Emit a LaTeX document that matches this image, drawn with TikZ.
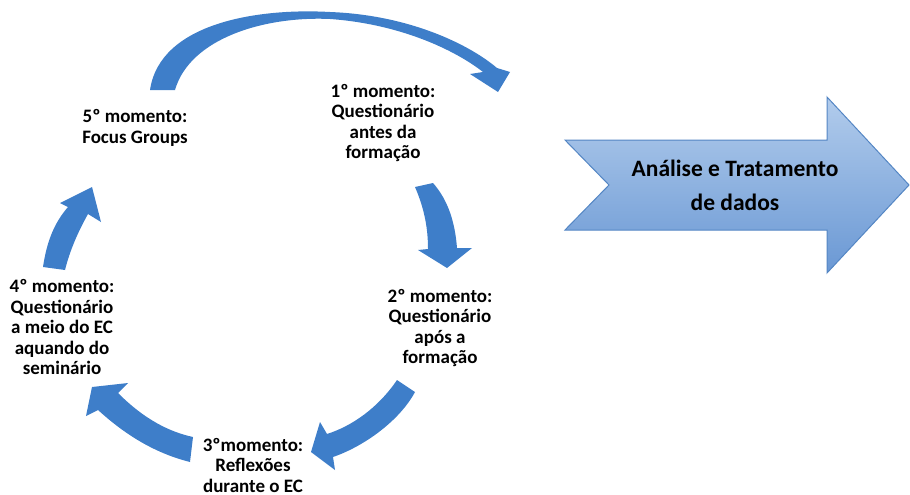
\documentclass[tikz,border=0pt]{standalone}
\usepackage{fontspec}
\setmainfont{Carlito}
\definecolor{seta}{RGB}{62,126,201}
\definecolor{setaclara}{RGB}{178,204,236}
\definecolor{setaescura}{RGB}{106,152,212}
\definecolor{borda}{RGB}{84,134,196}

\begin{document}
\begin{tikzpicture}[
    x=1pt, y=-1pt,
    momento/.style={font=\bfseries\fontsize{19}{20.5}\selectfont, align=center, inner sep=0pt},
    curva/.style={fill=seta},
    grande/.style={draw=borda, line width=1pt, top color=setaclara, bottom color=setaescura},
]
\useasboundingbox (0,0) rectangle (910,495);

\fill[curva] (150,90) .. controls (160,22) and (260,8) .. (330,12)
    .. controls (410,15) and (470,45) .. (497,68) -- (510,72) -- (498,92) -- (470,74) -- (483,72)
    .. controls (455,50) and (400,24) .. (330,19)
    .. controls (265,16) and (190,38) .. (175,90) -- cycle;
\fill[curva] (415,187) .. controls (425,210) and (428,230) .. (428,249) -- (418,250) -- (447,268)
    -- (472,248) -- (457,248) .. controls (455,222) and (448,200) .. (433,183) -- cycle;
\fill[curva] (397,380) .. controls (378,408) and (352,426) .. (327,434) -- (320,422) -- (311,452)
    -- (335,470) -- (333,457) .. controls (365,446) and (400,420) .. (415,392) -- cycle;
\fill[curva] (193,437) .. controls (170,432) and (145,420) .. (118,393) -- (128,383) -- (92,387)
    -- (86,416) -- (98,410) .. controls (120,430) and (150,452) .. (190,462) -- cycle;
\fill[curva] (43,267) .. controls (47,240) and (55,222) .. (68,207) -- (60,203) -- (92,187)
    -- (101,222) -- (88,214) .. controls (78,232) and (70,250) .. (65,270) -- cycle;

\draw[grande] (565,140) -- (827,140) -- (827,97) -- (909,185) -- (827,273) -- (827,230)
    -- (565,230) -- (609,185) -- cycle;
\node[font=\bfseries\fontsize{23.5}{34}\selectfont, align=center] (analise) at (735,185)
    {Análise e Tratamento\\de dados};

\node[momento] (m1) at (383,123) {1º momento:\\Questionário\\antes da\\formação};
\node[momento] (m2) at (440,328) {2º momento:\\Questionário\\após a\\formação};
\node[momento] (m3) at (253,465) {3ºmomento:\\Reflexões\\durante o EC};
\node[momento] (m4) at (62,327) {4º momento:\\Questionário\\a meio do EC\\aquando do\\seminário};
\node[momento] (m5) at (135,128) {5º momento:\\Focus Groups};
\end{tikzpicture}
\end{document}
